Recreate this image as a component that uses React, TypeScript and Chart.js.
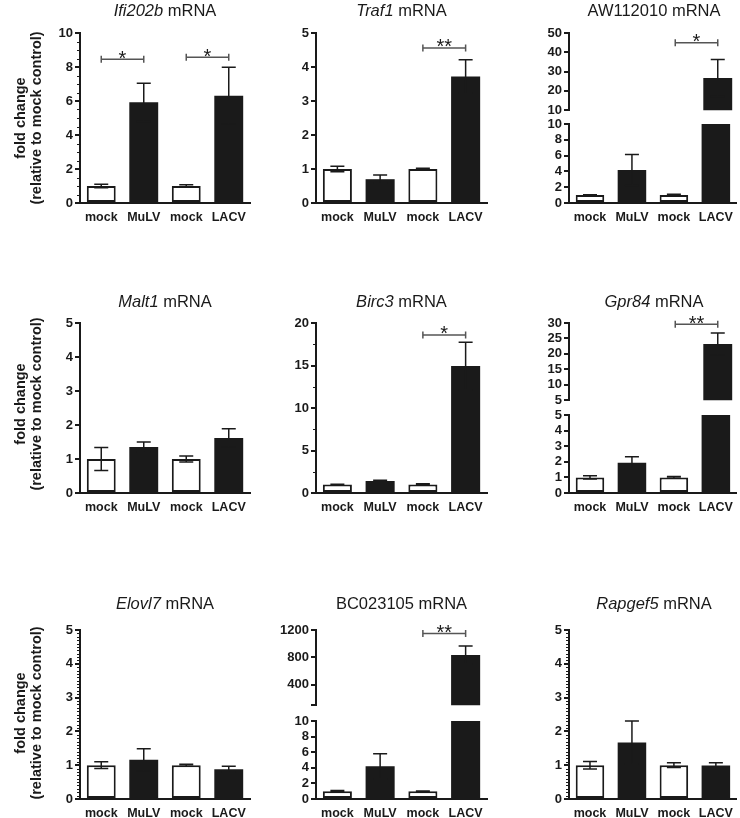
import React, { useEffect, useRef } from 'react';
import { Chart, registerables } from 'chart.js';

Chart.register(...registerables);

// ---------------- data ----------------
const CATEGORIES = ['mock', 'MuLV', 'mock', 'LACV'];
const GENES = ['Ifi202b', 'Traf1', 'AW112010', 'Malt1', 'Birc3', 'Gpr84', 'Elovl7', 'BC023105', 'Rapgef5'];
const GENE_ITALIC = [true, true, false, true, true, true, true, false, true];
const TITLE_SUFFIX = ' mRNA';
const Y_TITLE = ['fold change', '(relative to mock control)'];

const IFI202B = [1.0, 5.92, 1.0, 6.31];
const IFI202B_SEM = [0.1, 1.12, 0.08, 1.67];
const TRAF1 = [1.0, 0.7, 1.0, 3.72];
const TRAF1_SEM = [0.08, 0.12, 0.02, 0.49];
const AW112010 = [1.0, 4.18, 1.0, 26.7];
const AW112010_SEM = [0.05, 1.95, 0.1, 9.6];
const MALT1 = [1.0, 1.35, 1.0, 1.62];
const MALT1_SEM = [0.34, 0.15, 0.09, 0.27];
const BIRC3 = [1.0, 1.41, 1.0, 14.95];
const BIRC3_SEM = [0.03, 0.1, 0.1, 2.8];
const GPR84 = [1.0, 1.94, 1.0, 23.2];
const GPR84_SEM = [0.1, 0.38, 0.05, 3.6];
const ELOVL7 = [1.0, 1.16, 1.0, 0.88];
const ELOVL7_SEM = [0.1, 0.33, 0.03, 0.09];
const BC023105 = [1.0, 4.2, 1.0, 835];
const BC023105_SEM = [0.1, 1.6, 0.03, 130];
const RAPGEF5 = [1.0, 1.67, 1.0, 0.99];
const RAPGEF5_SEM = [0.11, 0.64, 0.07, 0.08];

const TICKS_IFI202B = [0, 2, 4, 6, 8, 10];
const TICKS_TRAF1 = [0, 1, 2, 3, 4, 5];
const TICKS_AW_UPPER = [10, 20, 30, 40, 50];
const TICKS_AW_LOWER = [0, 2, 4, 6, 8, 10];
const TICKS_MALT1 = [0, 1, 2, 3, 4, 5];
const TICKS_BIRC3 = [0, 5, 10, 15, 20];
const TICKS_GPR84_UPPER = [5, 10, 15, 20, 25, 30];
const TICKS_GPR84_LOWER = [0, 1, 2, 3, 4, 5];
const TICKS_ELOVL7 = [0, 1, 2, 3, 4, 5];
const TICKS_BC_UPPER = [100, 400, 800, 1200];
const LABELS_BC_UPPER = ['', '400', '800', '1200'];
const TICKS_BC_LOWER = [0, 2, 4, 6, 8, 10];
const TICKS_RAPGEF5 = [0, 1, 2, 3, 4, 5];

const MINOR_IFI202B = 0.5;
const MINOR_BIRC3 = 2.5;
const MINOR_ELOVL7 = 0.1;
const MINOR_RAPGEF5 = 0.1;

const SIG_IFI202B = [
  { from: 0, to: 1, y: 8.45, text: '*' },
  { from: 2, to: 3, y: 8.57, text: '*' },
];
const SIG_TRAF1 = [{ from: 2, to: 3, y: 4.56, text: '**' }];
const SIG_AW112010 = [{ from: 2, to: 3, y: 45, text: '*' }];
const SIG_BIRC3 = [{ from: 2, to: 3, y: 18.6, text: '*' }];
const SIG_GPR84 = [{ from: 2, to: 3, y: 29.6, text: '**' }];
const SIG_BC023105 = [{ from: 2, to: 3, y: 1150, text: '**' }];

// ---------------- structure ----------------
type Sig = { from: number; to: number; y: number; text: string };
type Seg = { ticks: number[]; labels?: string[]; minor?: number; sig?: Sig[] };
type Panel = { values: number[]; sem: number[]; upper?: Seg; lower: Seg };

const PANELS: Panel[] = [
  { values: IFI202B, sem: IFI202B_SEM, lower: { ticks: TICKS_IFI202B, minor: MINOR_IFI202B, sig: SIG_IFI202B } },
  { values: TRAF1, sem: TRAF1_SEM, lower: { ticks: TICKS_TRAF1, sig: SIG_TRAF1 } },
  { values: AW112010, sem: AW112010_SEM, upper: { ticks: TICKS_AW_UPPER, sig: SIG_AW112010 }, lower: { ticks: TICKS_AW_LOWER } },
  { values: MALT1, sem: MALT1_SEM, lower: { ticks: TICKS_MALT1 } },
  { values: BIRC3, sem: BIRC3_SEM, lower: { ticks: TICKS_BIRC3, minor: MINOR_BIRC3, sig: SIG_BIRC3 } },
  { values: GPR84, sem: GPR84_SEM, upper: { ticks: TICKS_GPR84_UPPER, sig: SIG_GPR84 }, lower: { ticks: TICKS_GPR84_LOWER } },
  { values: ELOVL7, sem: ELOVL7_SEM, lower: { ticks: TICKS_ELOVL7, minor: MINOR_ELOVL7 } },
  { values: BC023105, sem: BC023105_SEM, upper: { ticks: TICKS_BC_UPPER, labels: LABELS_BC_UPPER, sig: SIG_BC023105 }, lower: { ticks: TICKS_BC_LOWER } },
  { values: RAPGEF5, sem: RAPGEF5_SEM, lower: { ticks: TICKS_RAPGEF5, minor: MINOR_RAPGEF5 } },
];

// ---------------- layout / style ----------------
const INK = '#1a1a1a';
const BRACKET = '#555555';
const FONT = '"Liberation Sans", Arial, Helvetica, sans-serif';
const YW = 40;

const COLS = [
  { canvasLeft: 0, canvasRight: 255, plotLeft: 80, plotRight: 250 },
  { canvasLeft: 262, canvasRight: 492, plotLeft: 316, plotRight: 487 },
  { canvasLeft: 500, canvasRight: 740, plotLeft: 569, plotRight: 739 },
];
const ROWS = [
  { canvasTop: 0, canvasBottom: 228, plotTop: 33, plotBottom: 203, titleBaseline: 16, upperBottom: 112, lowerTop: 124, yTitleMid: 118 },
  { canvasTop: 272, canvasBottom: 516, plotTop: 323, plotBottom: 493, titleBaseline: 307, upperBottom: 402, lowerTop: 415, yTitleMid: 404 },
  { canvasTop: 578, canvasBottom: 818, plotTop: 630, plotBottom: 799, titleBaseline: 609, upperBottom: 707, lowerTop: 721, yTitleMid: 713 },
];

type Spec = {
  x: number; y: number; w: number; h: number;
  panel: number; seg: Seg; showX: boolean; xh: number;
  padding: { left: number; right: number; top: number; bottom: number };
  title: boolean; titleX: number; titleY: number;
  yTitle: boolean; yTitleMid: number;
};

function buildSpecs(): Spec[] {
  const out: Spec[] = [];
  PANELS.forEach((p, idx) => {
    const row = ROWS[Math.floor(idx / 3)];
    const col = COLS[idx % 3];
    const parts = p.upper
      ? [
          { seg: p.upper, top: row.canvasTop, bottom: row.upperBottom + 8, plotTop: row.plotTop, plotBottom: row.upperBottom, showX: false },
          { seg: p.lower, top: row.lowerTop - 10, bottom: row.canvasBottom, plotTop: row.lowerTop, plotBottom: row.plotBottom, showX: true },
        ]
      : [{ seg: p.lower, top: row.canvasTop, bottom: row.canvasBottom, plotTop: row.plotTop, plotBottom: row.plotBottom, showX: true }];
    parts.forEach((part, k) => {
      const xh = part.showX ? part.bottom - part.plotBottom : 0;
      out.push({
        x: col.canvasLeft,
        y: part.top,
        w: col.canvasRight - col.canvasLeft,
        h: part.bottom - part.top,
        panel: idx,
        seg: part.seg,
        showX: part.showX,
        xh,
        padding: {
          left: col.plotLeft - col.canvasLeft - YW,
          right: col.canvasRight - col.plotRight,
          top: part.plotTop - part.top,
          bottom: part.showX ? 0 : part.bottom - part.plotBottom,
        },
        title: k === 0,
        titleX: (col.plotLeft + col.plotRight) / 2 - col.canvasLeft,
        titleY: row.titleBaseline - part.top,
        yTitle: k === 0 && idx % 3 === 0,
        yTitleMid: row.yTitleMid - part.top,
      });
    });
  });
  return out;
}

const SPECS = buildSpecs();

function createChart(canvas: HTMLCanvasElement, s: Spec) {
  const panel = PANELS[s.panel];
  const values = panel.values;
  const sem = panel.sem;
  const seg = s.seg;
  const min = seg.ticks[0];
  const max = seg.ticks[seg.ticks.length - 1];
  const yTickFont = { family: FONT, size: 13, weight: 'bold' };
  const xTickFont = { family: FONT, size: 12.5, weight: 'bold' };

  const decor = {
    id: 'decor',
    afterDatasetsDraw(chart: any) {
      const { ctx, chartArea } = chart;
      const ys = chart.scales.y;
      const meta = chart.getDatasetMeta(0);
      ctx.save();
      ctx.beginPath();
      ctx.rect(chartArea.left, chartArea.top - 1, chartArea.right - chartArea.left, chartArea.bottom - chartArea.top + 1);
      ctx.clip();
      ctx.strokeStyle = INK;
      ctx.lineWidth = 1.5;
      meta.data.forEach((bar: any, i: number) => {
        const x = bar.x;
        const yT = ys.getPixelForValue(values[i] + sem[i]);
        const yB = ys.getPixelForValue(values[i] - sem[i]);
        ctx.beginPath();
        ctx.moveTo(x, yT);
        ctx.lineTo(x, yB);
        ctx.moveTo(x - 7, yT);
        ctx.lineTo(x + 7, yT);
        ctx.moveTo(x - 7, yB);
        ctx.lineTo(x + 7, yB);
        ctx.stroke();
      });
      ctx.restore();
    },
    afterDraw(chart: any) {
      const { ctx, chartArea } = chart;
      const ys = chart.scales.y;
      const xs = chart.scales.x;
      // minor ticks
      if (seg.minor) {
        ctx.save();
        ctx.strokeStyle = INK;
        ctx.lineWidth = 1;
        const n = Math.round((max - min) / seg.minor);
        for (let k = 0; k <= n; k++) {
          const v = min + k * seg.minor;
          if (seg.ticks.some((t) => Math.abs(t - v) < 1e-6)) continue;
          const py = Math.round(ys.getPixelForValue(v)) + 0.5;
          ctx.beginPath();
          ctx.moveTo(chartArea.left - 3, py);
          ctx.lineTo(chartArea.left, py);
          ctx.stroke();
        }
        ctx.restore();
      }
      // significance brackets
      (seg.sig || []).forEach((b) => {
        const x1 = xs.getPixelForValue(b.from);
        const x2 = xs.getPixelForValue(b.to);
        const py = ys.getPixelForValue(b.y);
        ctx.save();
        ctx.strokeStyle = BRACKET;
        ctx.lineWidth = 1.5;
        ctx.beginPath();
        ctx.moveTo(x1, py);
        ctx.lineTo(x2, py);
        ctx.moveTo(x1, py - 3.5);
        ctx.lineTo(x1, py + 3.5);
        ctx.moveTo(x2, py - 3.5);
        ctx.lineTo(x2, py + 3.5);
        ctx.stroke();
        ctx.fillStyle = INK;
        ctx.font = `20px ${FONT}`;
        ctx.textAlign = 'center';
        ctx.textBaseline = 'alphabetic';
        ctx.fillText(b.text, (x1 + x2) / 2, py + 5.5);
        ctx.restore();
      });
      // panel title
      if (s.title) {
        const gene = GENES[s.panel];
        const f1 = `${GENE_ITALIC[s.panel] ? 'italic ' : ''}16.5px ${FONT}`;
        const f2 = `16.5px ${FONT}`;
        ctx.save();
        ctx.fillStyle = INK;
        ctx.textAlign = 'left';
        ctx.textBaseline = 'alphabetic';
        ctx.font = f1;
        const w1 = ctx.measureText(gene).width;
        ctx.font = f2;
        const w2 = ctx.measureText(TITLE_SUFFIX).width;
        const x0 = s.titleX - (w1 + w2) / 2;
        ctx.font = f1;
        ctx.fillText(gene, x0, s.titleY);
        ctx.font = f2;
        ctx.fillText(TITLE_SUFFIX, x0 + w1, s.titleY);
        ctx.restore();
      }
      // y axis title
      if (s.yTitle) {
        ctx.save();
        ctx.fillStyle = INK;
        ctx.font = `bold 14.5px ${FONT}`;
        ctx.textAlign = 'center';
        ctx.textBaseline = 'middle';
        [21, 37].forEach((lx, i) => {
          ctx.save();
          ctx.translate(lx, s.yTitleMid);
          ctx.rotate(-Math.PI / 2);
          ctx.fillText(Y_TITLE[i], 0, 0);
          ctx.restore();
        });
        ctx.restore();
      }
    },
  };

  return new Chart(canvas, {
    type: 'bar',
    data: {
      labels: CATEGORIES,
      datasets: [
        {
          data: values,
          backgroundColor: values.map((_, i) => (i % 2 === 0 ? '#ffffff' : INK)),
          borderColor: INK,
          borderWidth: values.map((_, i) => (i % 2 === 0 ? 2 : 0)),
          borderSkipped: false,
          barPercentage: 0.68,
          categoryPercentage: 1,
          clip: 0,
        } as any,
      ],
    },
    options: {
      responsive: false,
      animation: false,
      events: [],
      layout: { padding: s.padding },
      plugins: {
        legend: { display: false },
        tooltip: { enabled: false },
        title: { display: false },
      },
      scales: {
        x: {
          type: 'category',
          display: s.showX,
          offset: true,
          grid: { display: false, drawTicks: false },
          border: { display: true, width: 2, color: INK },
          ticks: { color: INK, font: xTickFont as any, padding: 7, autoSkip: false, maxRotation: 0, minRotation: 0 },
          afterFit: (sc: any) => {
            sc.height = s.xh;
          },
        },
        y: {
          type: 'linear',
          min,
          max,
          grid: { display: true, drawOnChartArea: false, drawTicks: true, tickLength: 5, lineWidth: 2, color: INK },
          border: { display: true, width: 2, color: INK },
          ticks: {
            color: INK,
            font: yTickFont as any,
            padding: 2,
            autoSkip: false,
            callback: (v: any) => {
              const i = seg.ticks.findIndex((t) => Math.abs(t - Number(v)) < 1e-6);
              if (i < 0) return '';
              return seg.labels ? seg.labels[i] : String(seg.ticks[i]);
            },
          },
          afterBuildTicks: (sc: any) => {
            sc.ticks = seg.ticks.map((v) => ({ value: v }));
          },
          afterFit: (sc: any) => {
            sc.width = YW;
          },
        },
      },
    } as any,
    plugins: [decor as any],
  });
}

export default function App() {
  const refs = useRef<(HTMLCanvasElement | null)[]>([]);
  useEffect(() => {
    const charts = SPECS.map((s, i) => createChart(refs.current[i] as HTMLCanvasElement, s));
    return () => charts.forEach((c) => c.destroy());
  }, []);
  return (
    <div style={{ position: 'absolute', left: 0, top: 0, width: 740, height: 818, background: '#ffffff', overflow: 'hidden' }}>
      {SPECS.map((s, i) => (
        <canvas
          key={i}
          ref={(el) => {
            refs.current[i] = el;
          }}
          width={s.w}
          height={s.h}
          style={{ position: 'absolute', left: s.x, top: s.y, width: s.w, height: s.h }}
        />
      ))}
    </div>
  );
}
